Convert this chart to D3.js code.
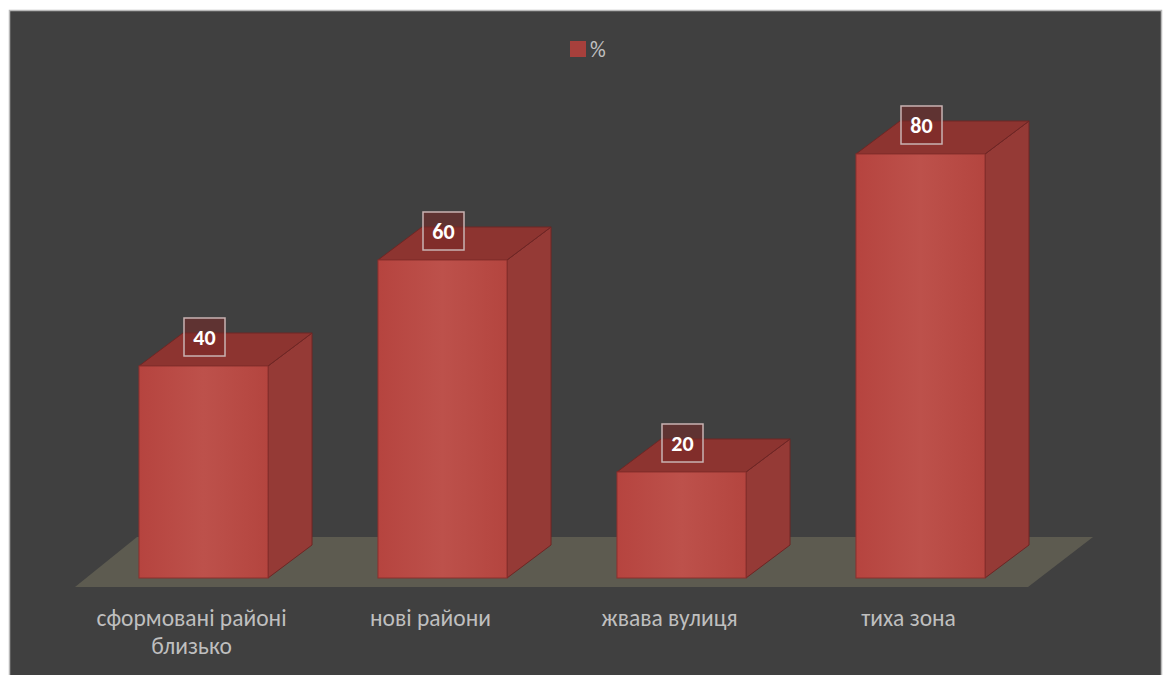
<!DOCTYPE html>
<html><head><meta charset="utf-8">
<script src="https://cdn.jsdelivr.net/npm/d3@7"></script>
<style>html,body{margin:0;padding:0;background:#fff;}svg{display:block;}</style>
</head><body>
<svg id="c" width="1165" height="675"></svg>
<script>
const categories = [["сформовані районі","близько"],["нові райони"],["жвава вулиця"],["тиха зона"]];
const values = [40, 60, 20, 80];
const seriesName = "%";

const svg = d3.select("#c");
const font = "Calibri, Carlito, Lato, 'Open Sans', sans-serif";

// chart area
svg.append("rect").attr("x",9.5).attr("y",10.5).attr("width",1152).attr("height",680)
  .attr("fill","#404040").attr("stroke","#b8b8b8").attr("stroke-width",1.5);

const x = d3.scaleBand().domain(d3.range(values.length)).range([84,1040])
  .paddingInner(0.46).paddingOuter(0.23);
const y = d3.scaleLinear().domain([0,100]).range([578,48]);

const dx = 44, dy = -33;
// floor
const fy0 = y(0) + 9, fdx = 62, fdy = -50;
svg.append("path")
  .attr("d",`M${x.range()[0]-9},${fy0} L${x.range()[1]-12},${fy0} L${x.range()[1]-12+fdx+3},${fy0+fdy} L${x.range()[0]-9+fdx},${fy0+fdy} Z`)
  .attr("fill","#5d5b50");

const defs = svg.append("defs");
const g1 = defs.append("linearGradient").attr("id","front").attr("x1","0").attr("x2","1").attr("y1","0").attr("y2","0");
g1.append("stop").attr("offset","0").attr("stop-color","#b6443f");
g1.append("stop").attr("offset","0.5").attr("stop-color","#bd514b");
g1.append("stop").attr("offset","1").attr("stop-color","#b4453f");

const bars = svg.append("g").selectAll("g").data(values).join("g");
bars.each(function(v,i){
  const g = d3.select(this);
  const x0 = x(i), x1 = x(i)+x.bandwidth(), yt = y(v), yb = y(0);
  // side
  g.append("path").attr("d",`M${x1},${yt} L${x1+dx},${yt+dy} L${x1+dx},${yb+dy} L${x1},${yb} Z`)
    .attr("fill","#953a36").attr("stroke","#6e2624").attr("stroke-width",1);
  // top
  g.append("path").attr("d",`M${x0},${yt} L${x0+dx},${yt+dy} L${x1+dx},${yt+dy} L${x1},${yt} Z`)
    .attr("fill","#8d3430").attr("stroke","#6e2624").attr("stroke-width",1);
  // front
  g.append("rect").attr("x",x0).attr("y",yt).attr("width",x1-x0).attr("height",yb-yt)
    .attr("fill","url(#front)").attr("stroke","#8a302d").attr("stroke-width",1);
  // label
  const cx = x0 + x.bandwidth()/2 + 1, cy = yt - 29;
  g.append("rect").attr("x",cx-20.5).attr("y",cy-19).attr("width",41).attr("height",38)
    .attr("fill","rgba(120,40,38,0.55)").attr("stroke","#c9b3b2").attr("stroke-width",1.5);
  g.append("text").attr("x",cx).attr("y",cy+8).attr("text-anchor","middle")
    .attr("font-family",font).attr("font-weight","bold").attr("font-size",22).attr("fill","#ffffff").text(v);
});

// category labels
const lab = svg.append("g").selectAll("text").data(categories).join("text")
  .attr("text-anchor","middle").attr("font-family",font).attr("font-size",23.5).attr("fill","#bfbfbf")
  .attr("x",(d,i)=>x(i)+x.bandwidth()/2 - 12)
  .attr("y",626);
lab.selectAll("tspan").data(d=>d).join("tspan")
  .attr("x",function(){return d3.select(this.parentNode).attr("x");})
  .attr("dy",(d,j)=>j===0?0:28).text(d=>d);

// legend
svg.append("rect").attr("x",570).attr("y",41).attr("width",16).attr("height",16).attr("fill","#a7403c");
svg.append("text").attr("x",590).attr("y",57).attr("font-family",font).attr("font-size",22).attr("fill","#bfbfbf").text(seriesName);
</script>
</body></html>
